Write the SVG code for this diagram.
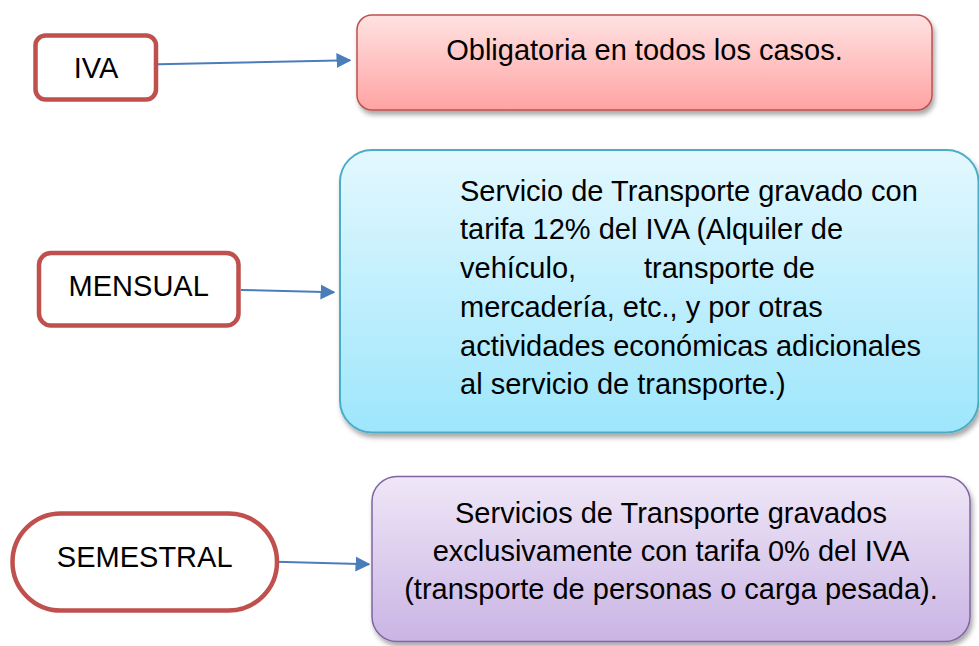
<svg xmlns="http://www.w3.org/2000/svg" width="979" height="646" viewBox="0 0 979 646">
<style>
  .lbl{fill:#fff;stroke:#c0504d;stroke-width:4.5}
  .t{font-family:"Liberation Sans",Arial,sans-serif;font-size:29px;fill:#000}
  .c{text-anchor:middle}
  .conn{stroke:#4a7ebb;stroke-width:2;fill:none;marker-end:url(#ah)}
</style>
<defs>
  <marker id="ah" viewBox="0 0 10 10" refX="9" refY="5" markerWidth="7.5" markerHeight="7.8" orient="auto" markerUnits="strokeWidth">
    <path d="M0,0 L10,5 L0,10 z" fill="#4a7ebb"/>
  </marker>
  <linearGradient id="gRed" x1="0" y1="0" x2="0" y2="1">
    <stop offset="0" stop-color="#ffe2e2"/>
    <stop offset="1" stop-color="#ffa3a3"/>
  </linearGradient>
  <linearGradient id="gBlue" x1="0" y1="0" x2="0" y2="1">
    <stop offset="0" stop-color="#e3f8fe"/>
    <stop offset="1" stop-color="#9ee6fc"/>
  </linearGradient>
  <linearGradient id="gPur" x1="0" y1="0" x2="0" y2="1">
    <stop offset="0" stop-color="#efe7f7"/>
    <stop offset="1" stop-color="#cab4e4"/>
  </linearGradient>
  <filter id="sh" x="-5%" y="-5%" width="115%" height="125%">
    <feDropShadow dx="2" dy="4" stdDeviation="2.5" flood-color="#000" flood-opacity="0.35"/>
  </filter>
</defs>
<rect width="979" height="646" fill="#fff"/>

<g id="connectors">
  <line class="conn" x1="158" y1="64.3" x2="350" y2="60.3"/>
  <line class="conn" x1="241" y1="290" x2="334" y2="292.3"/>
  <line class="conn" x1="276" y1="561.7" x2="369" y2="564.3"/>
</g>

<g id="node-iva">
  <rect class="lbl" x="35.5" y="35.5" width="120.5" height="64" rx="10"/>
  <text class="t c" x="96" y="78.3">IVA</text>
</g>

<g id="node-obligatoria">
  <rect x="357" y="15" width="575" height="95" rx="15" fill="url(#gRed)" stroke="#c0504d" stroke-width="1.5" filter="url(#sh)"/>
  <text class="t c" x="644.5" y="59.5">Obligatoria en todos los casos.</text>
</g>

<g id="node-mensual">
  <rect class="lbl" x="39" y="253" width="199.5" height="72.5" rx="12"/>
  <text class="t c" x="138.7" y="296">MENSUAL</text>
</g>

<g id="node-servicio">
  <rect x="340" y="150" width="638.5" height="282.5" rx="32" fill="url(#gBlue)" stroke="#4bacc6" stroke-width="2" filter="url(#sh)"/>
  <text class="t" x="460" y="200.7">Servicio de Transporte gravado con</text>
  <text class="t" x="460" y="239.4">tarifa 12% del IVA (Alquiler de</text>
  <text class="t" x="460" y="278.1">vehículo,</text>
  <text class="t" x="644" y="278.1">transporte de</text>
  <text class="t" x="460" y="316.8">mercadería, etc., y por otras</text>
  <text class="t" x="460" y="355.5">actividades económicas adicionales</text>
  <text class="t" x="460" y="394.2">al servicio de transporte.)</text>
</g>

<g id="node-semestral">
  <rect class="lbl" x="12.5" y="513.5" width="264.5" height="97" rx="48.5"/>
  <text class="t c" x="144.7" y="567.3">SEMESTRAL</text>
</g>

<g id="node-servicios">
  <rect x="372" y="476.5" width="598" height="165" rx="25" fill="url(#gPur)" stroke="#8064a2" stroke-width="1.5" filter="url(#sh)"/>
  <text class="t c" x="671" y="523">Servicios de Transporte gravados</text>
  <text class="t c" x="671" y="561">exclusivamente con tarifa 0% del IVA</text>
  <text class="t c" x="671" y="599">(transporte de personas o carga pesada).</text>
</g>
</svg>
